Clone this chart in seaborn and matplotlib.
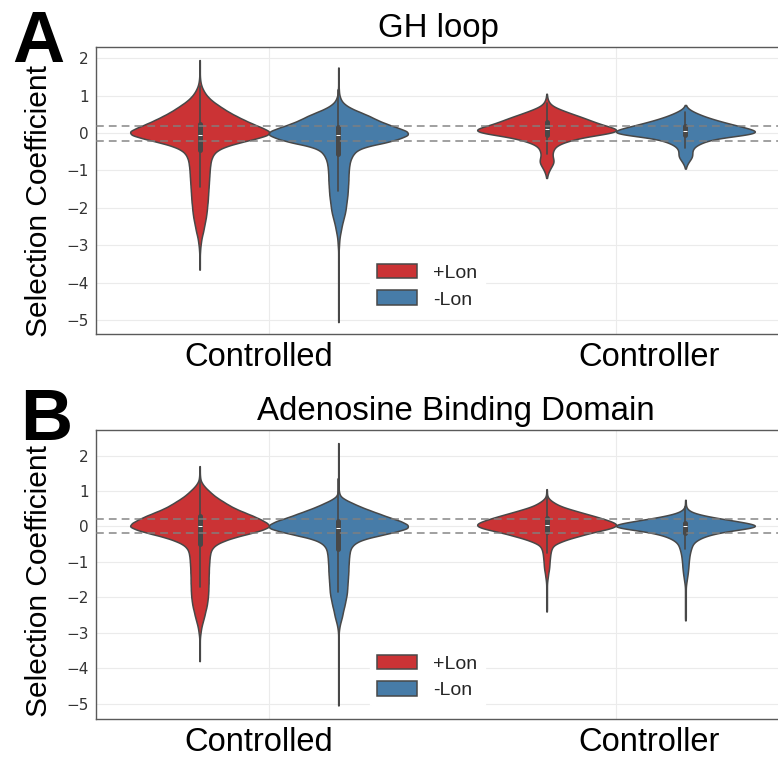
import numpy as np
import pandas as pd
import matplotlib
matplotlib.use("Agg")
import matplotlib.pyplot as plt
import matplotlib.transforms as mtransforms
import seaborn as sns

# ---------------------------------------------------------------------------
# Data: selection coefficients binned as histograms.
# Each series is (value of the lowest bin, bin step, counts from low to high).
# ---------------------------------------------------------------------------
groups = ["Controlled", "Controller"]
conditions = ["+Lon", "-Lon"]
panel_titles = ["GH loop", "Adenosine Binding Domain"]
panel_letters = ["A", "B"]
y_ticks = [-5, -4, -3, -2, -1, 0, 1, 2]
neutral_band = [-0.2, 0.2]

# GH loop
gh_controlled_plus_start, gh_controlled_plus_step = -3.65, 0.1
gh_controlled_plus_counts = [
    1, 1, 1, 1, 1, 2, 3, 5, 7, 10,
    14, 17, 20, 23, 26, 28, 30, 31, 33, 34,
    35, 36, 37, 38, 39, 40, 41, 42, 44, 46,
    51, 59, 76, 110, 165, 230, 285, 290, 255, 218,
    184, 153, 124, 99, 76, 54, 37, 24, 15, 8,
    4, 2, 1, 1, 1, 1, 1]

gh_controlled_minus_start, gh_controlled_minus_step = -5.05, 0.1
gh_controlled_minus_counts = [
    1, 1, 1, 1, 1, 1, 1, 1, 1, 1,
    1, 1, 1, 1, 1, 1, 1, 1, 1, 1,
    2, 3, 4, 6, 9, 12, 15, 19, 23, 27, 30, 32, 34, 36,
    38, 39, 40, 41, 42, 42, 43, 44, 46, 49, 55,
    64, 80, 120, 200, 255, 295,
    290, 245, 200, 162, 132, 95, 57, 30, 14, 7, 3, 2, 1, 1, 1, 1, 1, 1]

gh_controller_plus_start, gh_controller_plus_step = -1.20, 0.05
gh_controller_plus_counts = [
    1, 2, 3, 5, 7, 10, 13, 16, 19, 20,
    19, 17, 16, 16, 17, 19, 21, 26, 34, 46,
    64, 82, 105, 140, 180, 200, 200, 180, 160, 145,
    130, 117, 104, 90, 74, 60, 46, 33, 20, 13,
    8, 5, 3, 2, 1, 1]

gh_controller_minus_start, gh_controller_minus_step = -0.95, 0.05
gh_controller_minus_counts = [
    1, 2, 4, 7, 10, 14, 18, 19, 19, 18,
    19, 22, 26, 36, 46, 60, 80, 110, 170, 198,
    200, 180, 160, 140, 120, 100, 82, 66, 50, 38,
    26, 16, 7, 3, 1]

# Adenosine binding domain
abd_controlled_plus_start, abd_controlled_plus_step = -3.8, 0.1
abd_controlled_plus_counts = [
    1, 1, 1, 1, 1, 1, 1,
    2, 4, 6, 9, 13, 17, 21, 24, 28, 31, 33, 35, 36, 37, 37, 38, 38, 38,
    39, 39, 40, 41, 42, 44, 47, 55,
    72, 105, 150, 210, 265, 300,
    285, 258, 225, 188, 152, 124, 100, 76, 56, 40, 24, 12, 4, 2, 1, 1, 1]

abd_controlled_minus_start, abd_controlled_minus_step = -5.05, 0.1
abd_controlled_minus_counts = [
    1, 1, 1, 1, 1, 1, 1, 1, 1, 1, 1,
    1, 1, 1, 1, 1, 1, 1, 1, 1, 1,
    2, 4, 7, 11, 15, 18, 21, 25, 28, 31, 34, 36, 37,
    38, 39, 40, 41, 42, 42, 43, 44, 45, 47, 50,
    58, 75, 110, 175, 240, 295,
    292, 262, 215, 175, 134, 95, 62, 30, 8, 3,
    1, 1, 1, 1, 1, 1, 1, 1, 1, 1, 1, 1, 1, 1]

abd_controller_plus_start, abd_controller_plus_step = -2.40, 0.05
abd_controller_plus_counts = [
    1, 1, 1, 1, 1, 1, 1, 1, 1, 1, 1, 1, 1, 1,
    1, 1, 1, 2, 2, 3, 4, 4, 5, 6, 7, 7, 8, 8, 8, 9, 9, 10, 10, 11, 12, 13, 15, 18,
    22, 36, 48, 60, 80, 100, 112, 136, 160, 182, 196,
    200, 192, 178, 162, 148, 130, 112, 94, 78, 60, 44, 32, 24, 16, 9, 4, 2,
    1, 1, 1, 1]

abd_controller_minus_start, abd_controller_minus_step = -2.65, 0.05
abd_controller_minus_counts = [
    1, 1, 1, 1, 1, 1, 1, 1, 1, 1, 1, 1, 1, 1, 1, 1, 1, 1, 1,
    1, 2, 2, 3, 4, 4, 5, 6, 6, 7, 7, 8, 8, 8, 9, 9, 10, 10, 11, 12, 13, 14,
    16, 17, 19,
    23, 28, 36, 46, 58, 76, 100, 128, 170, 200,
    186, 160, 132, 104, 75, 50, 30, 16, 8, 4, 2, 1, 1, 1, 1]


def expand(start, step, counts):
    """Turn a binned histogram back into individual observations."""
    values = np.round(start + step * np.arange(len(counts)), 3)
    return np.repeat(values, counts)


def panel_frame(series):
    rows = []
    for (group, condition), (start, step, counts) in series.items():
        vals = expand(start, step, counts)
        rows.append(pd.DataFrame({"group": group, "condition": condition,
                                  "coefficient": vals}))
    return pd.concat(rows, ignore_index=True)


gh_df = panel_frame({
    ("Controlled", "+Lon"): (gh_controlled_plus_start, gh_controlled_plus_step, gh_controlled_plus_counts),
    ("Controlled", "-Lon"): (gh_controlled_minus_start, gh_controlled_minus_step, gh_controlled_minus_counts),
    ("Controller", "+Lon"): (gh_controller_plus_start, gh_controller_plus_step, gh_controller_plus_counts),
    ("Controller", "-Lon"): (gh_controller_minus_start, gh_controller_minus_step, gh_controller_minus_counts),
})
abd_df = panel_frame({
    ("Controlled", "+Lon"): (abd_controlled_plus_start, abd_controlled_plus_step, abd_controlled_plus_counts),
    ("Controlled", "-Lon"): (abd_controlled_minus_start, abd_controlled_minus_step, abd_controlled_minus_counts),
    ("Controller", "+Lon"): (abd_controller_plus_start, abd_controller_plus_step, abd_controller_plus_counts),
    ("Controller", "-Lon"): (abd_controller_minus_start, abd_controller_minus_step, abd_controller_minus_counts),
})

# ---------------------------------------------------------------------------
# Figure
# ---------------------------------------------------------------------------
sns.set_theme(style="whitegrid")
plt.rcParams["font.family"] = ["Liberation Sans", "DejaVu Sans"]

W, H = 778, 759
fig = plt.figure(figsize=(W / 100, H / 100), dpi=100)


def px_axes(left, top, right, bottom):
    return fig.add_axes([left / W, 1 - bottom / H, (right - left) / W, (bottom - top) / H])


axes = [px_axes(95.5, 47, 789.5, 334), px_axes(95.5, 430, 789.5, 718.5)]
ylims = [(-5.37, 2.30), (-5.42, 2.72)]
ylabel_y = [0.463, 0.478]
legend_y = [0.167, 0.144]
title_x = [0.4935, 0.5195]
letter_pos = [(12, 62), (20, 440)]
label_shift_px = {"Controlled": -10, "Controller": 33}

KDE_BANDWIDTH = 0.06


def fixed_bandwidth(kde):
    return KDE_BANDWIDTH / np.std(kde.dataset, ddof=1)


spine_color = "#5a5a5a"

for ax, df, title, ylim, ly, lgy, tx, letter, lpos in zip(
        axes, [gh_df, abd_df], panel_titles, ylims, ylabel_y, legend_y,
        title_x, panel_letters, letter_pos):
    sns.violinplot(data=df, x="group", y="coefficient", hue="condition",
                   order=groups, hue_order=conditions, palette="Set1",
                   density_norm="width", cut=0, gridsize=900,
                   bw_method=fixed_bandwidth, width=0.8, linewidth=1.1,
                   inner="box", inner_kws=dict(box_width=3.6, whis_width=1.2),
                   ax=ax)

    for yv in neutral_band:
        ax.axhline(yv, color="gray", linestyle=(0, (4, 2.6)), linewidth=1.4,
                   alpha=0.75, zorder=5)

    ax.set_ylim(*ylim)
    ax.set_xlim(-0.5, 1.5)
    ax.set_yticks(y_ticks)
    ax.set_axisbelow(True)
    ax.grid(True, color="#ebebeb", linewidth=0.8)
    for side in ["left", "right", "top", "bottom"]:
        ax.spines[side].set_visible(True)
        ax.spines[side].set_color(spine_color)
        ax.spines[side].set_linewidth(1.0)

    ax.tick_params(axis="both", which="major", length=3, width=0.8,
                   color=spine_color, direction="out")
    ax.tick_params(axis="y", labelsize=11, labelcolor="#333333",
                   labelfontfamily="DejaVu Sans", pad=2)
    ax.tick_params(axis="x", labelsize=23.5, labelcolor="black", pad=3)

    ax.set_xlabel("")
    ax.set_ylabel("Selection Coefficient", fontsize=21.5, color="black")
    ax.yaxis.set_label_coords(-0.061, ly)
    ax.set_title(title, fontsize=23.8, color="black", pad=7.2, x=tx)

    leg = ax.get_legend()
    handles = leg.legend_handles
    labels = [t.get_text() for t in leg.get_texts()]
    leg.remove()
    ax.legend(handles, labels, loc="center", bbox_to_anchor=(0.478, lgy),
              frameon=True, framealpha=1.0, edgecolor="white",
              facecolor="white", fontsize=14, handlelength=2.05,
              handleheight=0.78, handletextpad=0.8, labelspacing=0.45,
              borderpad=0.4)

    for lab in ax.get_xticklabels():
        dx = label_shift_px.get(lab.get_text(), 0)
        lab.set_transform(lab.get_transform()
                          + mtransforms.ScaledTranslation(dx / 100, 0, fig.dpi_scale_trans))

    fig.text(lpos[0] / W, 1 - lpos[1] / H, letter, fontsize=52,
             fontweight="bold", ha="left", va="baseline", color="black")

fig.savefig("out.png", dpi=100)
